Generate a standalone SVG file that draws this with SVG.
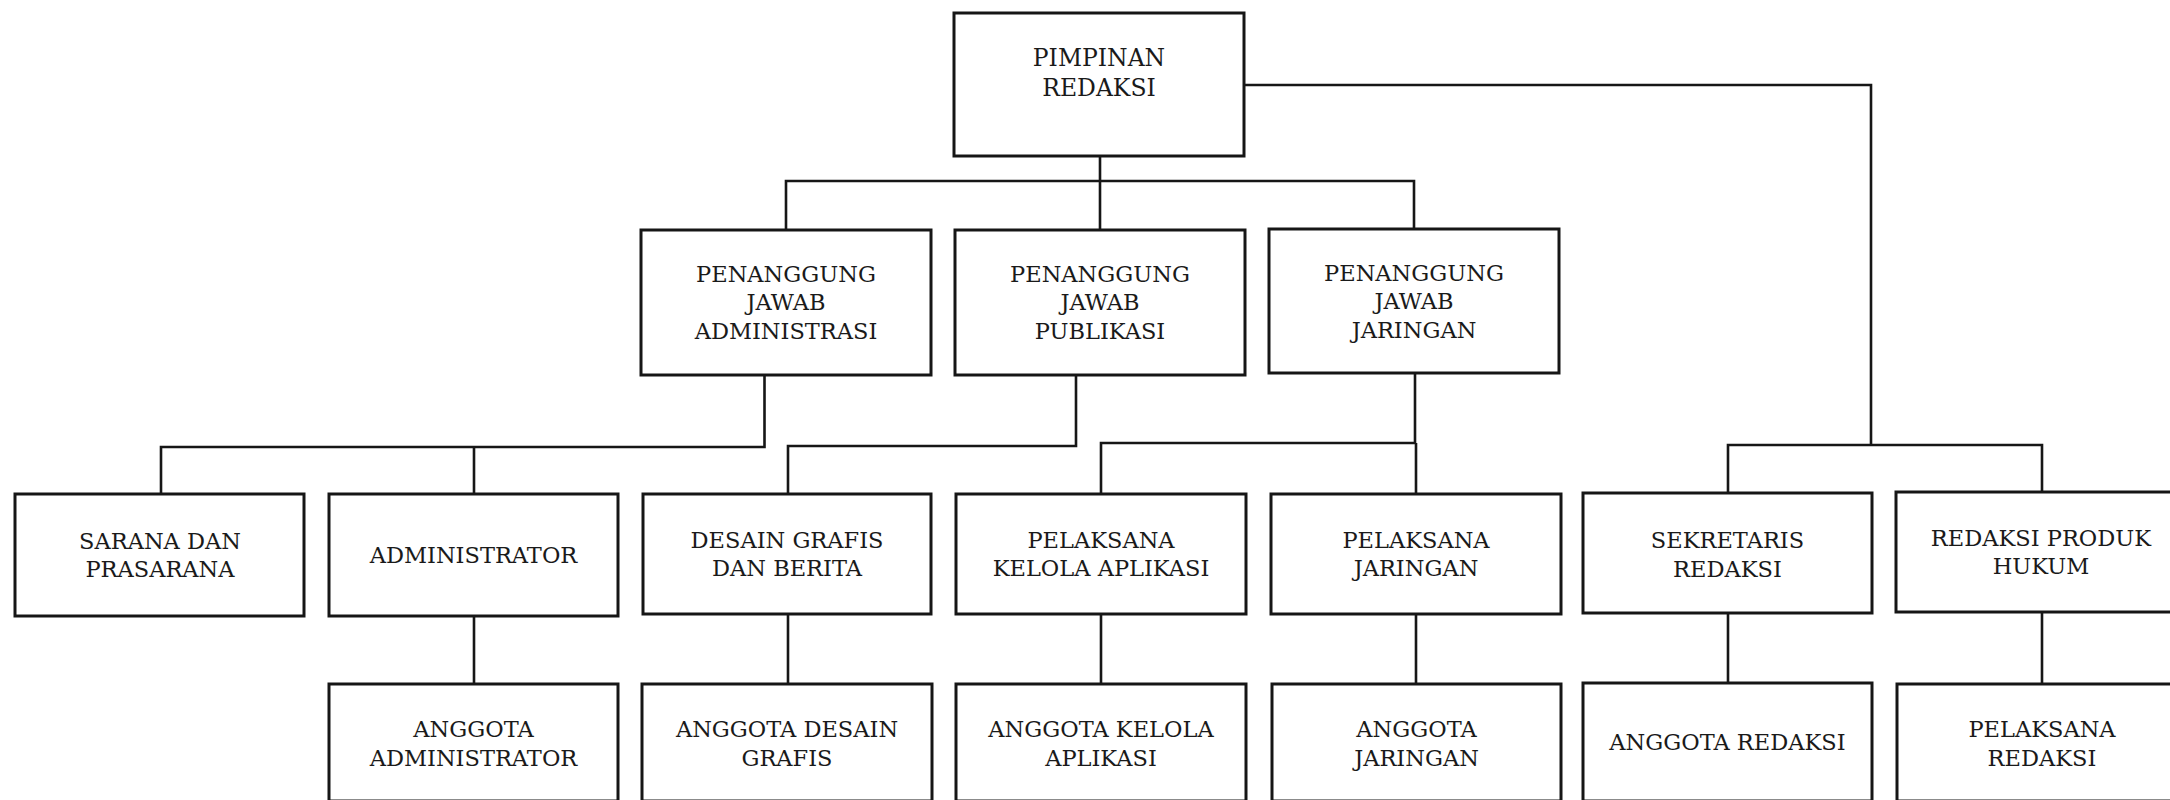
<svg xmlns="http://www.w3.org/2000/svg" width="2170" height="800" viewBox="0 0 2170 800">
<style>
.box{fill:#fff;stroke:#161616;stroke-width:3}
.ln{fill:none;stroke:#161616;stroke-width:2.6}
text{font-family:"DejaVu Serif","Liberation Serif",serif;font-size:22.5px;fill:#1a1a1a;text-anchor:middle}
.big{font-size:23.5px}
</style>
<rect width="2170" height="800" fill="#fff"/>
<g id="connectors">
<path class="ln" d="M1100 156V181M786 230V181H1414V230M1100 181V230"/>
<path class="ln" d="M1244 85H1871V445M1728 493V445H2042V493"/>
<path class="ln" d="M764.5 375V447H161V494M474 447V494"/>
<path class="ln" d="M1076 375V446H788V494"/>
<path class="ln" d="M1415 373V443H1101V494M1416 443V494"/>
<path class="ln" d="M474 616V684M788 614V684M1101 614V684M1416 614V684M1728 613V684M2042 612V684"/>
</g>
<g id="pimpinan"><rect class="box" x="954" y="13" width="290" height="143"/><text class="big" x="1099" y="66">PIMPINAN</text><text class="big" x="1099" y="96">REDAKSI</text></g>
<g id="pj-admin"><rect class="box" x="641" y="230" width="290" height="145"/><text x="786" y="282">PENANGGUNG</text><text x="786" y="310">JAWAB</text><text x="786" y="339">ADMINISTRASI</text></g>
<g id="pj-publikasi"><rect class="box" x="955" y="230" width="290" height="145"/><text x="1100" y="282">PENANGGUNG</text><text x="1100" y="310">JAWAB</text><text x="1100" y="339">PUBLIKASI</text></g>
<g id="pj-jaringan"><rect class="box" x="1269" y="229" width="290" height="144"/><text x="1414" y="281">PENANGGUNG</text><text x="1414" y="309">JAWAB</text><text x="1414" y="338">JARINGAN</text></g>
<g id="sarana"><rect class="box" x="15" y="494" width="289" height="122"/><text x="160" y="549">SARANA DAN</text><text x="160" y="577">PRASARANA</text></g>
<g id="administrator"><rect class="box" x="329" y="494" width="289" height="122"/><text x="473.5" y="563">ADMINISTRATOR</text></g>
<g id="desain"><rect class="box" x="643" y="494" width="288" height="120"/><text x="787" y="548">DESAIN GRAFIS</text><text x="787" y="576">DAN BERITA</text></g>
<g id="kelola"><rect class="box" x="956" y="494" width="290" height="120"/><text x="1101" y="548">PELAKSANA</text><text x="1101" y="576">KELOLA APLIKASI</text></g>
<g id="pelaksana-jaringan"><rect class="box" x="1271" y="494" width="290" height="120"/><text x="1416" y="548">PELAKSANA</text><text x="1416" y="576">JARINGAN</text></g>
<g id="sekretaris"><rect class="box" x="1583" y="493" width="289" height="120"/><text x="1727.5" y="548">SEKRETARIS</text><text x="1727.5" y="577">REDAKSI</text></g>
<g id="produk-hukum"><rect class="box" x="1896" y="492" width="290" height="120"/><text x="2041" y="546">REDAKSI PRODUK</text><text x="2041" y="574">HUKUM</text></g>
<g id="anggota-admin"><rect class="box" x="329" y="684" width="289" height="117"/><text x="473.5" y="737">ANGGOTA</text><text x="473.5" y="766">ADMINISTRATOR</text></g>
<g id="anggota-desain"><rect class="box" x="642" y="684" width="290" height="117"/><text x="787" y="737">ANGGOTA DESAIN</text><text x="787" y="766">GRAFIS</text></g>
<g id="anggota-kelola"><rect class="box" x="956" y="684" width="290" height="117"/><text x="1101" y="737">ANGGOTA KELOLA</text><text x="1101" y="766">APLIKASI</text></g>
<g id="anggota-jaringan"><rect class="box" x="1272" y="684" width="289" height="117"/><text x="1416.5" y="737">ANGGOTA</text><text x="1416.5" y="766">JARINGAN</text></g>
<g id="anggota-redaksi"><rect class="box" x="1583" y="683" width="289" height="118"/><text x="1727.5" y="750">ANGGOTA REDAKSI</text></g>
<g id="pelaksana-redaksi"><rect class="box" x="1897" y="684" width="290" height="117"/><text x="2042" y="737">PELAKSANA</text><text x="2042" y="766">REDAKSI</text></g>
</svg>
